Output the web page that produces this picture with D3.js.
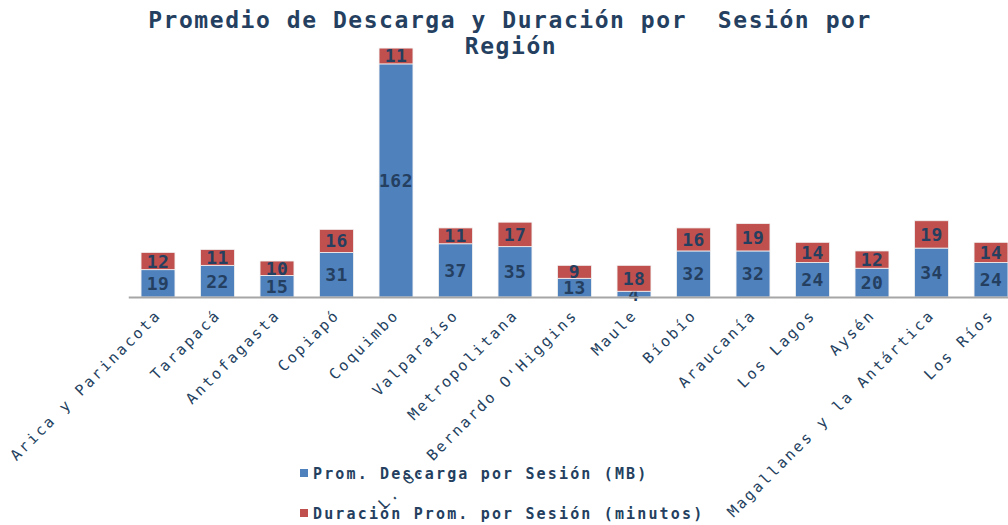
<!DOCTYPE html>
<html>
<head>
<meta charset="utf-8">
<script src="https://cdn.jsdelivr.net/npm/d3@7"></script>
<style>
	body { margin: 0; background: #fff; }
	text { font-family: "DejaVu Sans Mono", monospace; fill: #243f60; }
</style>
</head>
<body>
<div id="chart"></div>
<script>
// Data
var regiones = ["Arica y Parinacota", "Tarapacá", "Antofagasta", "Copiapó", "Coquimbo",
	"Valparaíso", "Metropolitana", "L. G. Bernardo O'Higgins", "Maule", "Bíobío",
	"Araucanía", "Los Lagos", "Aysén", "Magallanes y la Antártica", "Los Ríos"];
var descarga = [19, 22, 15, 31, 162, 37, 35, 13, 4, 32, 32, 24, 20, 34, 24];
var duracion = [12, 11, 10, 16, 11, 11, 17, 9, 18, 16, 19, 14, 12, 19, 14];
var series = ["Prom. Descarga por Sesión (MB)", "Duración Prom. por Sesión (minutos)"];
var colores = ["#4f81bd", "#c0504d"];

var width = 1008,
	height = 525;

var svg = d3.select("#chart")
	.append("svg")
	.attr("width", width)
	.attr("height", height);

// Title
var title = svg.append("text")
	.attr("text-anchor", "middle")
	.style("font-size", "23px")
	.style("font-weight", "bold")
	.style("letter-spacing", "1.55px")
	.style("white-space", "pre");
title.append("tspan").attr("x", 510).attr("y", 28).text("Promedio de Descarga y Duración por  Sesión por");
title.append("tspan").attr("x", 511).attr("y", 54).text("Región");

// Scales
var x = d3.scaleBand()
	.domain(regiones)
	.range([128.25, 1020.75])
	.paddingInner(0.43)
	.paddingOuter(0.215);

var y = d3.scaleLinear()
	.domain([0, 180])
	.range([297, 38]);

// stacked data
var rows = regiones.map(function(r, i) {
	return { region: r, descarga: descarga[i], duracion: duracion[i] };
});
var stack = d3.stack().keys(["descarga", "duracion"])(rows);

var layers = svg.append("g")
	.selectAll("g")
	.data(stack)
	.enter().append("g")
	.attr("fill", function(d, i) { return colores[i]; });

layers.selectAll("rect")
	.data(function(d) { return d; })
	.enter().append("rect")
	.attr("x", function(d) { return x(d.data.region); })
	.attr("y", function(d) { return y(d[1]); })
	.attr("width", x.bandwidth())
	.attr("height", function(d) { return y(d[0]) - y(d[1]); })
	.attr("stroke", "#f2f2f2")
	.attr("stroke-width", 0.8);

// axis line
var xAxis = d3.axisBottom(x).tickSize(0).tickFormat("");
svg.append("g")
	.attr("transform", "translate(0," + y(0) + ")")
	.call(xAxis)
	.select(".domain")
	.attr("stroke", "#a6a6a6")
	.attr("stroke-width", 2);

// value labels
layers.selectAll(".val")
	.data(function(d) { return d; })
	.enter().append("text")
	.attr("class", "val")
	.attr("x", function(d) { return x(d.data.region) + x.bandwidth() / 2; })
	.attr("y", function(d) { return (y(d[0]) + y(d[1])) / 2; })
	.attr("dy", "0.36em")
	.attr("text-anchor", "middle")
	.style("font-size", "18px")
	.style("font-weight", "bold")
	.style("letter-spacing", "0.5px")
	.text(function(d) { return d[1] - d[0]; });

// category labels, rotated
svg.append("g")
	.selectAll("text")
	.data(regiones)
	.enter().append("text")
	.attr("transform", function(d) {
		return "translate(" + (x(d) + x.bandwidth() / 2 + 4) + ",316) rotate(-45)";
	})
	.attr("text-anchor", "end")
	.style("font-size", "15px")
	.style("letter-spacing", "2.4px")
	.text(function(d) { return d; });

// legend
var legend = svg.append("g")
	.selectAll("g")
	.data(series)
	.enter().append("g")
	.attr("transform", function(d, i) { return "translate(300," + (469 + i * 40) + ")"; });

legend.append("rect")
	.attr("width", 8)
	.attr("height", 8)
	.attr("fill", function(d, i) { return colores[i]; });

legend.append("text")
	.attr("x", 13)
	.attr("y", 10)
	.style("font-size", "15px")
	.style("font-weight", "bold")
	.style("letter-spacing", "2.15px")
	.text(function(d) { return d; });
</script>
</body>
</html>
